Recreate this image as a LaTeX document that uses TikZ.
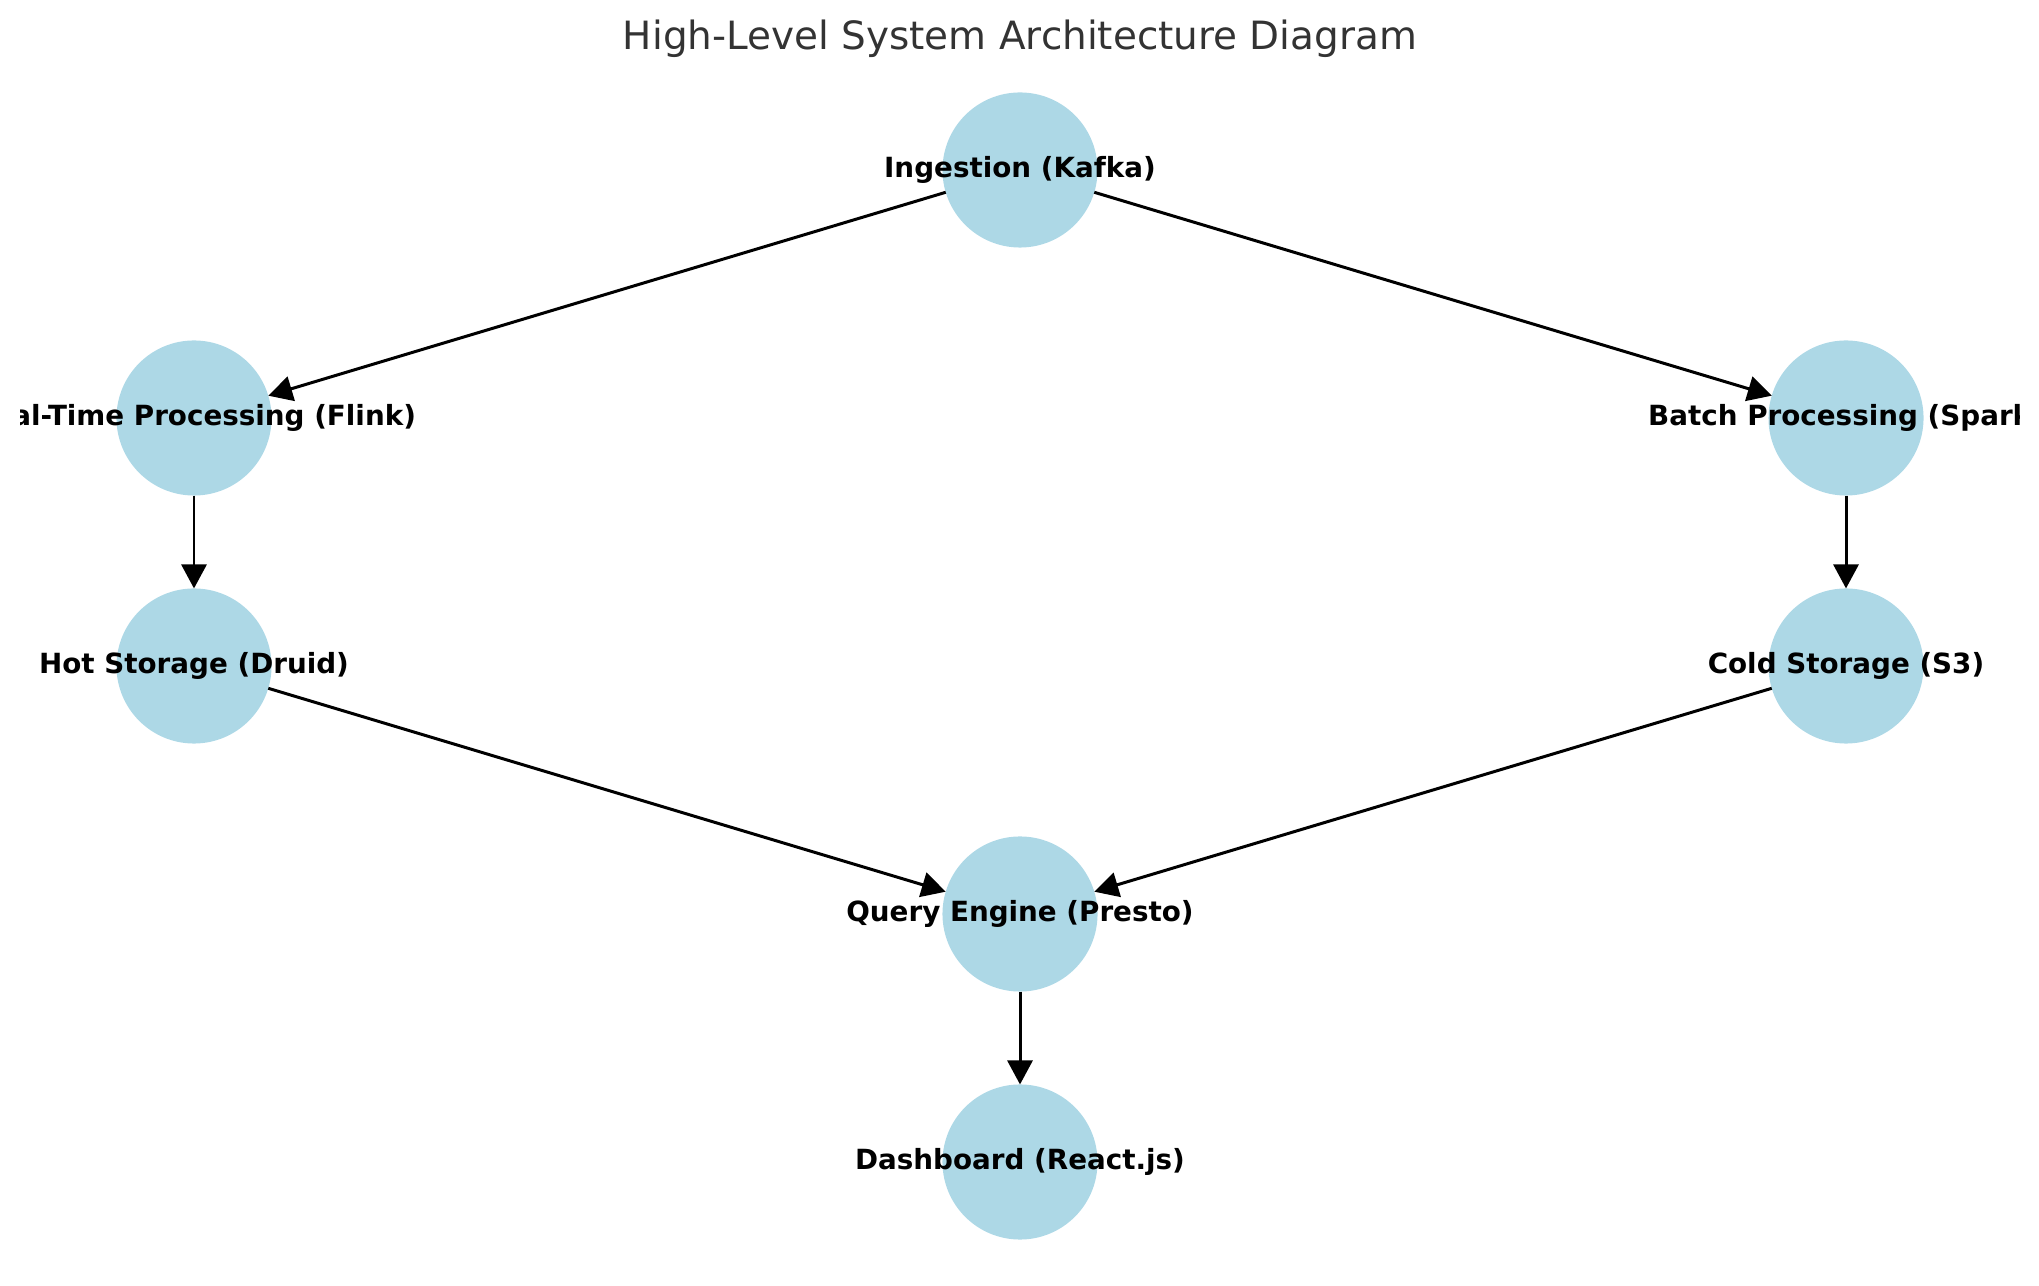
\documentclass[tikz,border=0pt]{standalone}
\usepackage{fontspec}
\setmainfont{DejaVu Sans}
\usetikzlibrary{arrows.meta}
\definecolor{nodeblue}{HTML}{ADD8E6}
\definecolor{titlegrey}{HTML}{333333}
\newcommand{\drawCircleNode}[2]{
	\node[circle, fill=nodeblue, minimum size=1.55cm, inner sep=0, outer sep=0] (#1) at (#2) {};
}
\newcommand{\drawNodeText}[2]{
	\node[font=\fontsize{7.9}{9.5}\selectfont\bfseries, inner sep=0] (#1T) at (#1) {#2};
}
\newcommand {\drawArrowNodeToNode}[2] {
	\draw[-{Triangle[length=0.24cm,width=0.25cm]}, line width=0.85pt] (#1) -- (#2);
}

\begin{document}
\begin{tikzpicture}[x=0.01cm, y=-0.01cm]
	\useasboundingbox (0,0) rectangle (2039,1286);

	\coordinate (C_ING) at (1020,170);
	\coordinate (C_RT) at (194,418);
	\coordinate (C_BT) at (1846,418);
	\coordinate (C_HOT) at (194,666);
	\coordinate (C_COLD) at (1846,666);
	\coordinate (C_QE) at (1020,914);
	\coordinate (C_DB) at (1020,1162);

	\node[font=\fontsize{11.07}{13}\selectfont, text=titlegrey, anchor=base] (TITLE) at (1020,50) {High-Level System Architecture Diagram};

	\drawCircleNode{ING}{C_ING}
	\drawCircleNode{RT}{C_RT}
	\drawCircleNode{BT}{C_BT}
	\drawCircleNode{HOT}{C_HOT}
	\drawCircleNode{COLD}{C_COLD}
	\drawCircleNode{QE}{C_QE}
	\drawCircleNode{DB}{C_DB}

	\drawArrowNodeToNode{ING}{RT}
	\drawArrowNodeToNode{ING}{BT}
	\drawArrowNodeToNode{RT}{HOT}
	\drawArrowNodeToNode{BT}{COLD}
	\drawArrowNodeToNode{HOT}{QE}
	\drawArrowNodeToNode{COLD}{QE}
	\drawArrowNodeToNode{QE}{DB}

	% labels are cut at the plot area
	\begin{scope}
	\clip (20,0) rectangle (2019,1286);
	\drawNodeText{ING}{Ingestion (Kafka)}
	\drawNodeText{RT}{Real-Time Processing (Flink)}
	\drawNodeText{BT}{Batch Processing (Spark)}
	\drawNodeText{HOT}{Hot Storage (Druid)}
	\drawNodeText{COLD}{Cold Storage (S3)}
	\drawNodeText{QE}{Query Engine (Presto)}
	\drawNodeText{DB}{Dashboard (React.js)}
	\end{scope}
\end{tikzpicture}
\end{document}
